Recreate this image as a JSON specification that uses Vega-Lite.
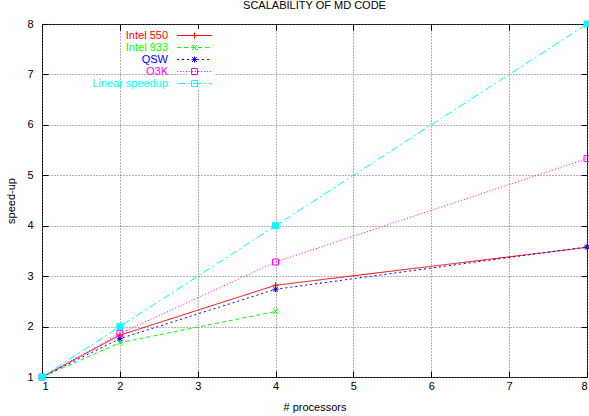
{
  "$schema": "https://vega.github.io/schema/vega-lite/v6.json",
  "width": 545,
  "height": 353,
  "autosize": "none",
  "padding": {"left": 42, "top": 24, "right": 2, "bottom": 39},
  "config": {
    "font": "Liberation Sans",
    "view": {"stroke": "black", "strokeWidth": 1},
    "axis": {
      "labelFontSize": 11, "titleFontSize": 11, "titleFontWeight": "normal",
      "labelColor": "black", "titleColor": "black", "tickColor": "black",
      "domain": false, "gridColor": "#666666", "gridDash": [1, 2], "gridOpacity": 1
    }
  },
  "title": {"text": "SCALABILITY OF MD CODE", "fontSize": 11, "fontWeight": "normal", "offset": 7, "anchor": "middle", "color": "black"},
  "data": {"values": [
    {"series": "Intel 550", "key": "Intel 550", "p": 1, "s": 1},
    {"series": "Intel 550", "key": "Intel 550", "p": 2, "s": 1.83},
    {"series": "Intel 550", "key": "Intel 550", "p": 4, "s": 2.82},
    {"series": "Intel 550", "key": "Intel 550", "p": 8, "s": 3.57},
    {"series": "Intel 933", "key": "Intel 933", "p": 1, "s": 1},
    {"series": "Intel 933", "key": "Intel 933", "p": 2, "s": 1.68},
    {"series": "Intel 933", "key": "Intel 933", "p": 4, "s": 2.30},
    {"series": "QSW", "key": "QSW", "p": 1, "s": 1},
    {"series": "QSW", "key": "QSW", "p": 2, "s": 1.76},
    {"series": "QSW", "key": "QSW", "p": 4, "s": 2.74},
    {"series": "QSW", "key": "QSW", "p": 8, "s": 3.58},
    {"series": "O3K", "key": "O3K", "p": 1, "s": 1},
    {"series": "O3K", "key": "O3K", "p": 2, "s": 1.86},
    {"series": "O3K", "key": "O3K", "p": 4, "s": 3.28},
    {"series": "O3K", "key": "O3K", "p": 8, "s": 5.33},
    {"series": "Linear speedup", "key": "Linear speedup", "p": 1, "s": 1},
    {"series": "Linear speedup", "key": "Linear speedup", "p": 2, "s": 2},
    {"series": "Linear speedup", "key": "Linear speedup", "p": 4, "s": 4},
    {"series": "Linear speedup", "key": "Linear speedup", "p": 8, "s": 8}
  ]},
  "resolve": {"axis": {"x": "independent", "y": "independent"}},
  "layer": [
    {
      "mark": {"type": "line", "strokeWidth": 1},
      "encoding": {
        "x": {"field": "p", "type": "quantitative", "scale": {"domain": [1, 8], "nice": false, "zero": false},
          "axis": {"title": "# processors", "values": [1, 2, 3, 4, 5, 6, 7, 8], "grid": true, "tickSize": -6, "labelPadding": 9, "titlePadding": 10}},
        "y": {"field": "s", "type": "quantitative", "scale": {"domain": [1, 8], "nice": false, "zero": false},
          "axis": {"title": "speed-up", "values": [1, 2, 3, 4, 5, 6, 7, 8], "grid": true, "tickSize": -6, "labelPadding": 15, "titlePadding": 10}},
        "color": {"field": "series", "type": "nominal",
          "scale": {"domain": ["Intel 550", "Intel 933", "QSW", "O3K", "Linear speedup"], "range": ["#ff0000", "#00ff00", "#0000ff", "#ff00ff", "#00ffff"]},
          "legend": {"title": null, "orient": "none", "legendX": 146, "legendY": 5, "padding": 0, "rowPadding": 0,
            "fillColor": "white",
            "symbolType": "M-2.9,0L2.9,0", "symbolSize": 144, "symbolStrokeWidth": 1, "symbolFillColor": "transparent",
            "labelFontSize": 11, "labelAlign": "right", "labelOffset": -33,
            "encode": {"labels": {"update": {"fill": {"scale": "color", "field": "value"}}}}}},
        "strokeDash": {"field": "series", "type": "nominal",
          "scale": {"domain": ["Intel 550", "Intel 933", "QSW", "O3K", "Linear speedup"], "range": [[1, 0], [4, 3], [2, 3], [1, 2], [8, 3, 2, 3]]}}
      }
    },
    {
      "mark": {"type": "point", "filled": true, "size": 144, "strokeWidth": 1, "opacity": 1},
      "encoding": {
        "x": {"field": "p", "type": "quantitative", "axis": {"orient": "top", "values": [1, 2, 3, 4, 5, 6, 7, 8], "labels": false, "title": null, "grid": false, "tickSize": -6}},
        "y": {"field": "s", "type": "quantitative", "axis": {"orient": "right", "values": [1, 2, 3, 4, 5, 6, 7, 8], "labels": false, "title": null, "grid": false, "tickSize": -6}},
        "stroke": {"field": "series", "type": "nominal", "legend": null,
          "scale": {"domain": ["Intel 550", "Intel 933", "QSW", "O3K", "Linear speedup"], "range": ["#ff0000", "#00ff00", "#0000ff", "#ff00ff", "#00ffff"]}},
        "shape": {"field": "key", "type": "nominal",
          "sort": ["Intel 550", "Intel 933", "QSW", "O3K", "Linear speedup"],
          "scale": {"range": ["M-0.5,0L0.5,0M0,-0.5L0,0.5", "M-0.45,-0.45L0.45,0.45M-0.45,0.45L0.45,-0.45", "M-0.5,0L0.5,0M0,-0.5L0,0.5M-0.4,-0.4L0.4,0.4M-0.4,0.4L0.4,-0.4", "M-0.5,-0.5L0.5,-0.5L0.5,0.5L-0.5,0.5Z", "M-0.5,-0.5L0.5,-0.5L0.5,0.5L-0.5,0.5Z"]},
          "legend": {"title": null, "orient": "none", "legendX": 146, "legendY": 5, "padding": 0, "rowPadding": 0,
            "symbolSize": 144, "symbolStrokeWidth": 1, "labelFontSize": 11, "labelExpr": "''",
            "symbolStrokeColor": {"expr": "scale('stroke', datum.value)"},
            "symbolFillColor": {"expr": "datum.value === 'Linear speedup' ? '#00ffff' : 'transparent'"}}},
        "fill": {"condition": {"test": "datum.series === 'Linear speedup'", "value": "#00ffff"}, "value": "transparent"}
      }
    }
  ]
}
